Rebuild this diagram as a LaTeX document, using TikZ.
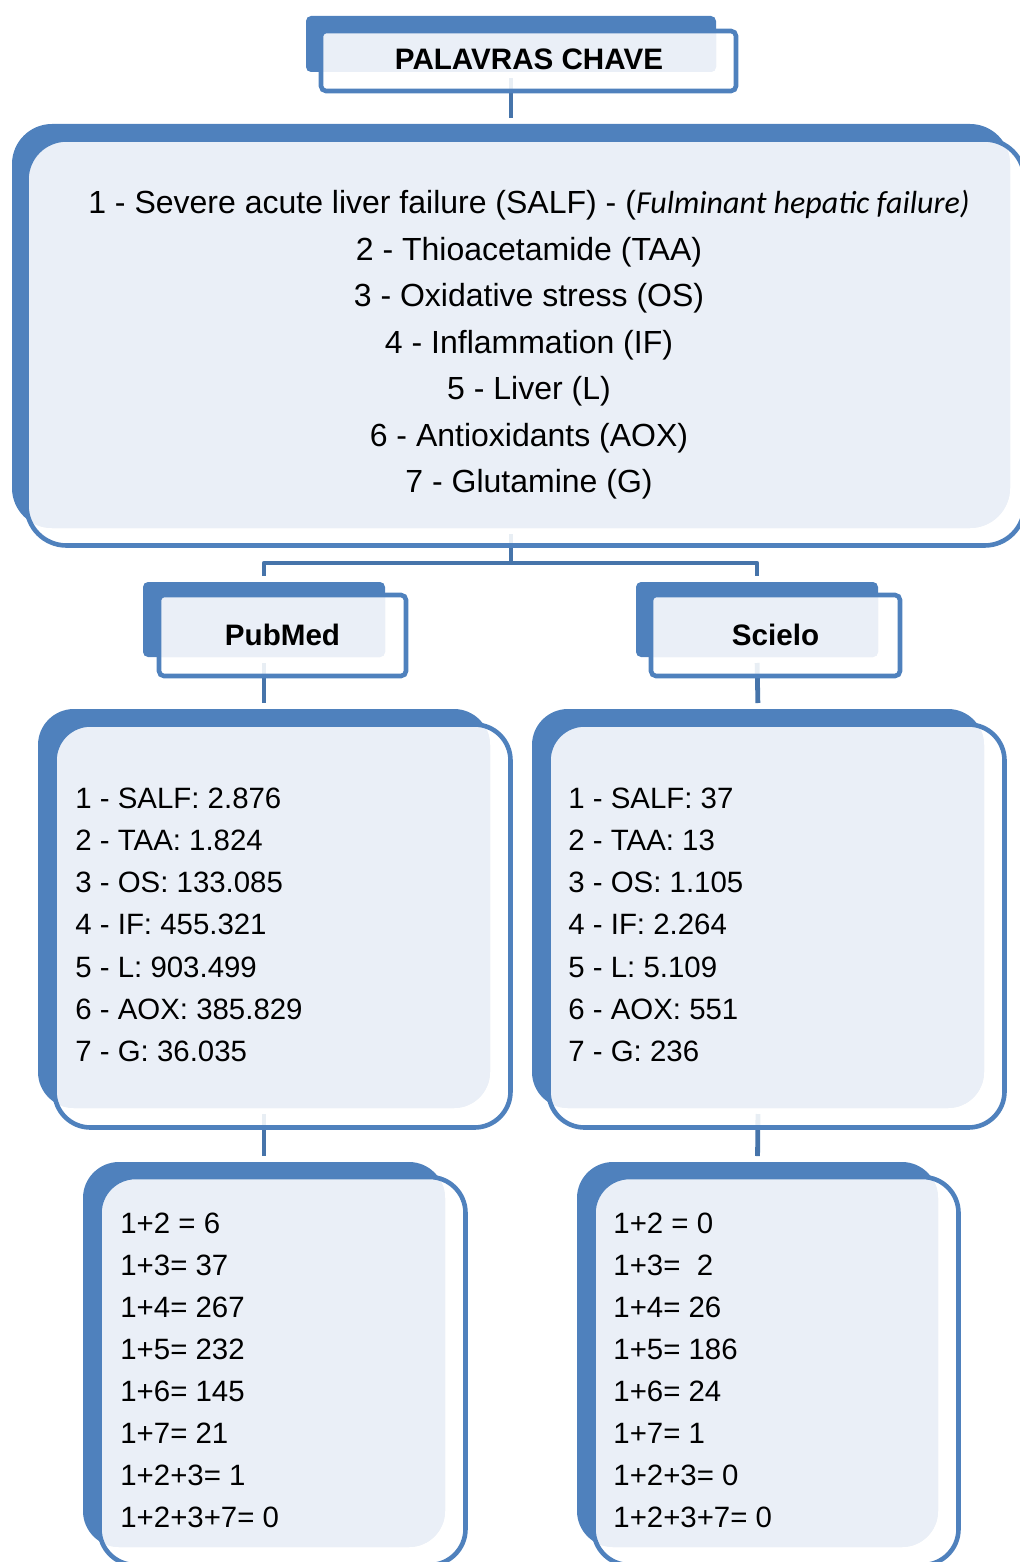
\documentclass[tikz,border=0pt]{standalone}
\usepackage{fontspec}
\setmainfont{Liberation Sans}
\newfontfamily\calibrifont{Carlito}
\usetikzlibrary{fit}
\definecolor{boxblue}{RGB}{79,129,189}
\definecolor{lightfill}{RGB}{234,239,247}
\definecolor{connblue}{RGB}{70,116,170}
\pgfdeclarelayer{bg}
\pgfsetlayers{bg,main}
\tikzset{
  bluebox/.style={fill=boxblue, inner sep=0pt, outer sep=0pt},
  frame/.style={draw=boxblue, line width=2.3pt},
  conn/.style={draw=connblue, line width=2.4pt, line join=round, shorten <=3pt, shorten >=3pt},
  headtext/.style={font=\fontsize{14.8}{17}\selectfont\bfseries, anchor=base, inner sep=0pt},
  maintext/.style={font=\fontsize{16}{19}\selectfont, anchor=base, inner sep=0pt},
  listtext/.style={font=\fontsize{14.7}{17}\selectfont, anchor=base west, inner sep=0pt}
}
% blue block, light face clipped to it, open frame on top
\newcommand{\keybox}[4]{%
  \node[bluebox, rounded corners=#4, fit={#2}] (#1) {};
  \fill[white, fill opacity=.88, rounded corners=#4] #3;
  \begin{scope}
    \clip[rounded corners=#4] (#1.south west) rectangle (#1.north east);
    \fill[lightfill, rounded corners=#4] #3;
  \end{scope}
  \draw[frame, rounded corners=#4] #3;
}

\begin{document}
\begin{tikzpicture}[x=0.5pt, y=-0.5pt]
  \useasboundingbox (0,0) rectangle (1019,1562);

  \keybox{kw}{(306,16) (716,72)}{(321,31) rectangle (736,91)}{2.5pt}
  \keybox{terms}{(12,124) (1010,528)}{(26.5,139.5) rectangle (1024.5,545.5)}{20pt}
  \keybox{pubmed}{(143,582) (385,657)}{(159,595) rectangle (406,676)}{2.5pt}
  \keybox{scielo}{(636,582) (878,657)}{(651,595) rectangle (900,676)}{2.5pt}
  \keybox{pubcount}{(38,709) (490,1108)}{(54.5,724.5) rectangle (510.5,1127.5)}{18pt}
  \keybox{scicount}{(532,709) (984,1108)}{(548.5,724.5) rectangle (1004.5,1127.5)}{18pt}
  \keybox{pubcomb}{(83,1162) (445,1547)}{(99.5,1177) rectangle (465.5,1565)}{18pt}
  \keybox{scicomb}{(577,1162) (938,1547)}{(593.5,1177) rectangle (958.5,1565)}{18pt}

  % connectors
  \begin{pgfonlayer}{bg}
    \draw[conn] (kw.south) -- (terms.north);
    \draw[conn] (terms.south) -- ++(0,35) -| (pubmed.north);
    \draw[conn] (terms.south) -- ++(0,35) -| (scielo.north);
    \draw[conn] (pubmed.south) -- (pubcount.north);
    \draw[conn] (scielo.south) -- (scicount.north);
    \draw[conn] (pubcount.south) -- (pubcomb.north);
    \draw[conn] (scicount.south) -- (scicomb.north);
  \end{pgfonlayer}

  % texts
  \node[headtext] (kwlabel) at (529,70) {PALAVRAS CHAVE};
  \node[headtext] (pubmedlabel) at (282.5,645) {PubMed};
  \node[headtext] (scielolabel) at (775.5,645) {Scielo};

  \foreach \t [count=\i] in {%
    {1 - Severe acute liver failure (SALF) - ({\calibrifont\itshape Fulminant hepatic failure)}},
    {2 - Thioacetamide (TAA)}, {3 - Oxidative stress (OS)}, {4 - Inflammation (IF)},
    {5 - Liver (L)}, {6 - Antioxidants (AOX)}, {7 - Glutamine (G)}}
    \node[maintext] (term\i) at (529,{213.5+46.5*(\i-1)}) {\t};

  \foreach \t [count=\i] in {1 - SALF: 2.876, 2 - TAA: 1.824, 3 - OS: 133.085,
    4 - IF: 455.321, 5 - L: 903.499, 6 - AOX: 385.829, 7 - G: 36.035}
    \node[listtext] (pc\i) at (75,{808+42.3*(\i-1)}) {\t};

  \foreach \t [count=\i] in {1 - SALF: 37, 2 - TAA: 13, 3 - OS: 1.105,
    4 - IF: 2.264, 5 - L: 5.109, 6 - AOX: 551, 7 - G: 236}
    \node[listtext] (sc\i) at (568,{808+42.3*(\i-1)}) {\t};

  \foreach \t [count=\i] in {1+2 = 6, 1+3= 37, 1+4= 267, 1+5= 232,
    1+6= 145, 1+7= 21, 1+2+3= 1, 1+2+3+7= 0}
    \node[listtext] (pb\i) at (120,{1233+42.1*(\i-1)}) {\t};

  \foreach \t [count=\i] in {1+2 = 0, 1+3=\ \ 2, 1+4= 26, 1+5= 186,
    1+6= 24, 1+7= 1, 1+2+3= 0, 1+2+3+7= 0}
    \node[listtext] (sb\i) at (613,{1233+42.1*(\i-1)}) {\t};
\end{tikzpicture}
\end{document}
